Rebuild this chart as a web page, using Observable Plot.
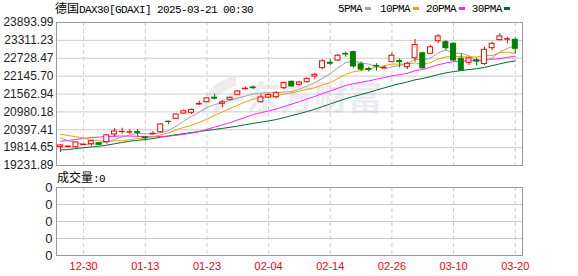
<!DOCTYPE html>
<html><head><meta charset="utf-8">
<script src="https://cdn.jsdelivr.net/npm/d3@7"></script>
<script src="https://cdn.jsdelivr.net/npm/@observablehq/plot@0.6"></script>
<style>
body{margin:0;background:#fff;}
#wrap{position:relative;width:578px;height:276px;overflow:hidden;}
.t{position:absolute;white-space:nowrap;font-family:"Liberation Mono",monospace;font-size:11px;letter-spacing:-0.6px;line-height:12px;color:#000;}
.cjk{font-family:"Noto Sans CJK SC",sans-serif;font-size:12px;letter-spacing:0;}
.sw{position:absolute;width:6px;height:3px;top:7px;}
.plot{position:absolute;left:0;}
#wm{position:absolute;left:0;top:0;}
</style></head><body><div id="wrap"></div>
<script>
const dates = ["12-20","12-23","12-27","12-30","01-02","01-03","01-06","01-07","01-08","01-09",
"01-10","01-13","01-14","01-15","01-16","01-17","01-20","01-21","01-22","01-23",
"01-24","01-27","01-28","01-29","01-30","01-31","02-03","02-04","02-05","02-06",
"02-07","02-10","02-11","02-12","02-13","02-14","02-17","02-18","02-19","02-20",
"02-21","02-24","02-25","02-26","02-27","02-28","03-03","03-04","03-05","03-06",
"03-07","03-10","03-11","03-12","03-13","03-14","03-17","03-18","03-19","03-20"];
const open = [19829,19835,19829,19900,19927,19959,19992,20243,20320,20305,
20320,20150,20250,20318,20660,20754,20928,20950,21220,21296,
21440,21244,21374,21537,21720,21775,21296,21449,21459,21752,
21960,21862,21947,22134,22404,22580,22654,22870,22926,22530,
22375,22480,22405,22600,22640,22437,22730,22890,22874,23284,
23252,23200,22710,22580,22660,22540,23056,23320,23335,23330];
const high = [19917,19870,19990,19925,20031,19982,20230,20429,20448,20390,
20406,20178,20340,20592,20670,20914,21050,21070,21330,21440,
21557,21351,21460,21670,21790,21820,21547,21570,21640,21960,
21990,21970,22080,22241,22678,22678,22850,22926,22960,22600,
22440,22550,22480,22894,22710,22600,23340,22926,23144,23503,
23307,23232,22873,22763,22740,23089,23252,23530,23415,23382];
const low = [19656,19800,19796,19890,19852,19884,19927,20155,20253,20240,
20155,20025,20243,20298,20559,20740,20900,20900,21200,21280,
21372,21113,21350,21510,21700,21700,21263,21410,21420,21700,
21780,21830,21920,22026,22352,22492,22620,22763,22400,22300,
22280,22310,22370,22600,22417,22362,22600,22370,22841,23200,
22981,22600,22297,22492,22470,22492,22981,23290,23200,22874];
const close = [19885,19848,19984,19909,20025,19906,20216,20340,20329,20317,
20295,20120,20265,20570,20650,20895,21000,21045,21240,21420,
21410,21290,21440,21645,21735,21755,21450,21530,21590,21920,
21810,21938,22058,22190,22630,22550,22810,22850,22460,22360,
22350,22460,22415,22810,22600,22547,23160,22400,23085,23440,
23056,22655,22330,22720,22620,23004,23200,23440,23350,23036];
const ma5 = [20132,20038,19986,19919,19930,19934,20008,20079,20163,20222,
20283,20267,20253,20302,20369,20507,20679,20833,20969,21120,
21218,21277,21354,21431,21494,21562,21591,21606,21596,21631,
21642,21716,21822,21935,22077,22222,22422,22583,22640,22581,
22535,22461,22374,22446,22494,22547,22691,22674,22731,22905,
22997,22891,22892,22811,22640,22636,22743,22930,23052,23139];
const ma10 = [20256,20207,20172,20123,20083,20033,20023,20033,20041,20076,
20109,20137,20166,20233,20296,20395,20473,20543,20635,20745,
20863,20978,21094,21200,21307,21390,21434,21480,21513,21562,
21602,21653,21714,21765,21854,21932,22069,22203,22288,22329,
22379,22441,22479,22543,22537,22541,22576,22524,22589,22699,
22772,22791,22783,22771,22773,22816,22817,22911,22932,22890];
const ma20 = [20025,20047,20082,20114,20144,20158,20172,20188,20193,20191,
20183,20172,20169,20178,20189,20214,20248,20288,20338,20410,
20486,20557,20630,20716,20801,20893,20953,21011,21074,21154,
21232,21316,21404,21483,21580,21661,21751,21841,21900,21946,
21990,22047,22096,22154,22196,22236,22322,22364,22438,22514,
22575,22616,22631,22657,22655,22679,22696,22717,22760,22794];
const ma30 = [19738,19752,19783,19812,19838,19861,19895,19940,19984,20023,
20053,20077,20110,20154,20195,20237,20272,20307,20341,20376,
20409,20441,20477,20518,20562,20606,20643,20685,20730,20794,
20858,20923,20991,21066,21152,21239,21325,21409,21479,21545,
21614,21691,21762,21836,21899,21954,22026,22069,22130,22197,
22251,22295,22325,22360,22388,22430,22487,22546,22603,22639];
const yTicks = [19231.89,19814.65,20397.41,20980.18,21562.94,22145.70,22728.47,23311.23,23893.99];
const xTickDates = ["12-30","01-13","01-23","02-04","02-14","02-26","03-10","03-20"];
const volTicks = [0,1,2,3,4];
const volValue = 0;

const RED = "#ff0000", GREEN = "#008000";
const rows = dates.map((d, i) => ({i, date: d, o: open[i], h: high[i], l: low[i], c: close[i],
  ma5: ma5[i], ma10: ma10[i], ma20: ma20[i], ma30: ma30[i]}));
const up = rows.filter(d => d.c >= d.o);
const down = rows.filter(d => d.c < d.o);
const tickIdx = xTickDates.map(d => dates.indexOf(d));
const xOpt = {domain: [-0.52, 59.94], axis: null};
const half = 0.32;
const wrap = document.getElementById("wrap");

// watermark
const wm = document.createElementNS("http://www.w3.org/2000/svg", "svg");
wm.setAttribute("width", 578); wm.setAttribute("height", 276); wm.id = "wm";
wm.innerHTML = `<path d="M236 76 C214 80 200 96 203 116 C208 102 218 92 236 86 Z M240 90 C222 96 212 106 212 118 C220 108 230 102 244 100 Z" fill="#ececf0"/>
<text x="246" y="110" font-family="Noto Sans CJK SC" font-weight="bold" font-size="34" fill="#ececf0">东方财富</text>`;
wrap.appendChild(wm);

const style = {background: "transparent", fontFamily: "Liberation Sans, Arial, sans-serif", fontSize: "12px", overflow: "visible"};

const price = Plot.plot({
  width: 578, height: 170,
  marginTop: 22, marginBottom: 5, marginLeft: 56, marginRight: 56,
  x: xOpt,
  y: {domain: [yTicks[0], yTicks[yTicks.length - 1]], axis: null},
  style,
  marks: [
    Plot.gridY(yTicks, {stroke: "#cccccc", strokeOpacity: 1}),
    Plot.gridX(tickIdx, {stroke: "#cccccc", strokeOpacity: 1, strokeDasharray: "4,3"}),
    Plot.axisY(yTicks, {tickSize: 0, tickPadding: 3, tickFormat: d3.format(".2f"), fill: "#222", fontSize: 12}),
    Plot.line(rows, {x: "i", y: "ma30", stroke: "#006b33", strokeWidth: 1}),
    Plot.line(rows, {x: "i", y: "ma20", stroke: "#ff22ff", strokeWidth: 1}),
    Plot.line(rows, {x: "i", y: "ma10", stroke: "#f0a000", strokeWidth: 1}),
    Plot.line(rows, {x: "i", y: "ma5", stroke: "#a0a0a0", strokeWidth: 1}),
    Plot.ruleX(up, {x: "i", y1: "l", y2: "h", stroke: RED}),
    Plot.ruleX(down, {x: "i", y1: "l", y2: "h", stroke: GREEN}),
    Plot.rect(up, {x1: d => d.i - half, x2: d => d.i + half, y1: "o", y2: "c", fill: "white", stroke: RED}),
    Plot.rect(down, {x1: d => d.i - half, x2: d => d.i + half, y1: "o", y2: "c", fill: GREEN, stroke: GREEN}),
    Plot.frame({stroke: "#999999"})
  ]
});
price.classList.add("plot"); price.style.top = "0px";
wrap.appendChild(price);

const vol = Plot.plot({
  width: 578, height: 106,
  marginTop: 17, marginBottom: 21, marginLeft: 56, marginRight: 56,
  x: xOpt,
  y: {domain: [volTicks[0], volTicks[volTicks.length - 1]], axis: null},
  style,
  marks: [
    Plot.gridY(volTicks.slice(1, -1), {stroke: "#cccccc", strokeOpacity: 1}),
    Plot.gridX(tickIdx, {stroke: "#cccccc", strokeOpacity: 1, strokeDasharray: "4,3"}),
    Plot.axisY(volTicks, {tickSize: 0, tickPadding: 4, tickFormat: () => String(volValue), fill: "#222", fontSize: 13}),
    Plot.axisX(tickIdx, {tickSize: 0, tickPadding: 7, tickFormat: i => dates[i], fill: RED, fontSize: 11}),
    Plot.frame({stroke: "#999999"})
  ]
});
vol.classList.add("plot"); vol.style.top = "170px";
wrap.appendChild(vol);

function addText(html, left, top) {
  const d = document.createElement("div");
  d.className = "t"; d.style.left = left + "px"; d.style.top = top + "px";
  d.innerHTML = html; wrap.appendChild(d); return d;
}
addText('<span class="cjk">德国</span>DAX30[GDAXI] 2025-03-21 00:30', 55, 2);
const legend = [["5PMA", 338, 365, "#a0a0a0"], ["10PMA", 380, 412.7, "#f0a000"], ["20PMA", 426, 458.7, "#ff22ff"], ["30PMA", 471.7, 504.3, "#006b33"]];
for (const [label, tx, sx, col] of legend) {
  addText(label, tx, 3);
  const s = document.createElement("div");
  s.className = "sw"; s.style.left = sx + "px"; s.style.background = col; wrap.appendChild(s);
}
addText('<span class="cjk">成交量</span>:' + volValue, 57, 171);
</script></body></html>
